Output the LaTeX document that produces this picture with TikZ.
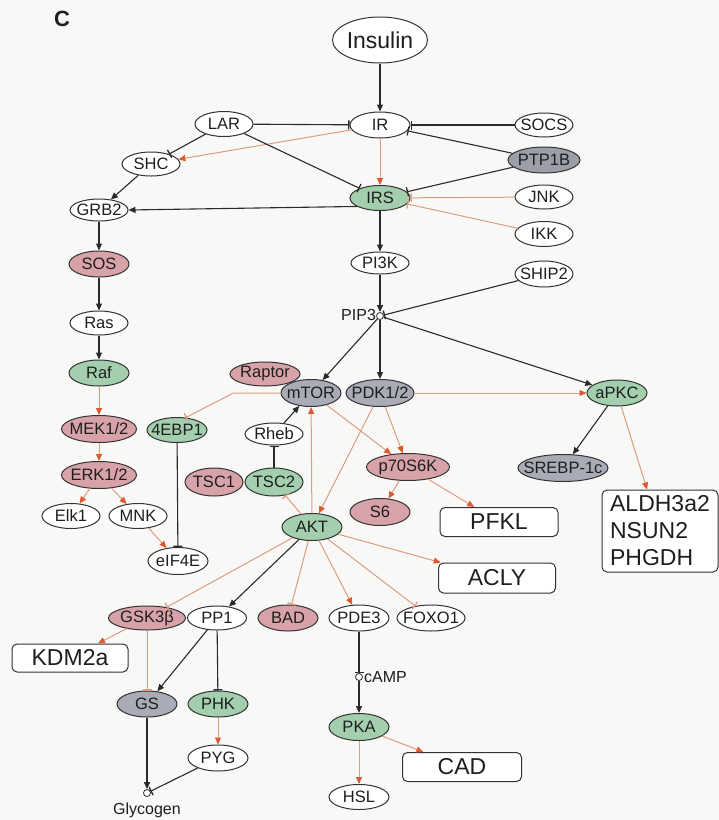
\documentclass[tikz,border=0pt]{standalone}
\usepackage{fontspec}
\setmainfont{Liberation Sans}
\usetikzlibrary{shapes.geometric,arrows.meta,calc}
\definecolor{bgc}{HTML}{F8F8F7}
\definecolor{pkc}{HTML}{D8A3A8}
\definecolor{grc}{HTML}{A3CFAE}
\definecolor{gyc}{HTML}{A9ABB6}
\definecolor{gyd}{HTML}{9C9EA9}
\definecolor{edgec}{HTML}{333333}
\definecolor{blk}{HTML}{2A2A2A}
\definecolor{orl}{HTML}{DE9C80}
\definecolor{ort}{HTML}{DD5A2E}
\definecolor{txt}{HTML}{1E1E1E}
\newcommand\mk[1]{\makebox[0pt]{#1}}
\begin{document}
\begin{tikzpicture}[x=1pt,y=-1pt,
  el/.style={ellipse, draw=edgec, line width=1pt, inner sep=0pt, text=txt,
    font=\fontsize{16.5}{17}\selectfont},
  sz/.style 2 args={minimum width=#1pt, minimum height=#2pt},
  wn/.style={el, fill=white},
  pn/.style={el, fill=pkc},
  gn/.style={el, fill=grc},
  yn/.style={el, fill=gyc},
  yd/.style={el, fill=gyd},
  bx/.style={draw=edgec, line width=1pt, rounded corners=5pt, fill=white,
    inner sep=0pt, text=txt, font=\fontsize{23}{27}\selectfont, align=center},
  lbl/.style={inner sep=0pt, text=txt, font=\fontsize{16}{16}\selectfont},
  jn/.style={circle, draw=edgec, fill=white, line width=0.8pt, minimum size=7pt, inner sep=0pt},
  ba/.style={draw=blk, line width=1.1pt, -{Triangle[length=7pt,width=6pt]}},
  bi/.style={draw=blk, line width=1.1pt, -{Bar[width=9pt,line width=1.3pt]}},
  oa/.style={draw=orl, line width=1pt, -{Triangle[length=7pt,width=6pt,color=ort]}},
  oi/.style={draw=orl, line width=1pt, -{Bar[width=9pt,line width=1.3pt]}},
]
\fill[bgc] (0,0) rectangle (719,820);
\useasboundingbox (0,0) rectangle (719,820);

\node[font=\fontsize{22}{22}\selectfont\bfseries, text=txt, inner sep=0pt] (clbl) at (62,19) {C};

% top
\node[wn, sz={95}{46}, font=\fontsize{23}{24}\selectfont] (ins) at (380,40) {\mk{Insulin}};
\node[wn, sz={60}{26}] (ir) at (380,125) {\mk{IR}};
\node[wn, sz={58}{25}] (lar) at (224,124) {\mk{LAR}};
\node[wn, sz={58}{24}] (socs) at (544,125) {\mk{SOCS}};
\node[yd, sz={72}{26}] (ptp) at (544,160) {\mk{PTP1B}};
\node[wn, sz={58}{24}] (shc) at (151,164) {\mk{SHC}};
\node[wn, sz={58}{22}] (grb) at (99,210) {\mk{GRB2}};
\node[gn, sz={60}{25}] (irs) at (380,198) {\mk{IRS}};
\node[wn, sz={58}{24}] (jnk) at (544,197) {\mk{JNK}};
\node[wn, sz={58}{25}] (ikk) at (544,234) {\mk{IKK}};
\node[wn, sz={58}{22}] (pi3k) at (380,263) {\mk{PI3K}};
\node[wn, sz={58}{26}] (ship) at (544,274) {\mk{SHIP2}};
\node[jn] (pip3) at (380,316) {};
\node[lbl, anchor=east] (pip3l) at ($(pip3.west)+(0,-1)$) {PIP3};

% left column
\node[pn, sz={60}{26}] (sos) at (99,264) {\mk{SOS}};
\node[wn, sz={58}{24}] (ras) at (99,323) {\mk{Ras}};
\node[gn, sz={60}{26}] (raf) at (99,373) {\mk{Raf}};
\node[pn, sz={75}{27}] (mek) at (99,429) {\mk{MEK1/2}};
\node[pn, sz={75}{27}] (erk) at (99,475) {\mk{ERK1/2}};
\node[wn, sz={58}{25}] (elk) at (71,516) {\mk{Elk1}};
\node[wn, sz={58}{25}] (mnk) at (138,516) {\mk{MNK}};
\node[wn, sz={60}{27}] (eif) at (178,561) {\mk{eIF4E}};

% middle
\node[pn, sz={70}{24}] (rap) at (265,374) {\mk{Raptor}};
\node[yn, sz={60}{27}] (mtor) at (311,393) {\mk{mTOR}};
\node[yn, sz={68}{27}] (pdk) at (380,393) {\mk{PDK1/2}};
\node[gn, sz={60}{26}] (apkc) at (617,393) {\mk{aPKC}};
\node[gn, sz={60}{25}] (ebp) at (177,430) {\mk{4EBP1}};
\node[wn, sz={58}{22}] (rheb) at (274,434) {\mk{Rheb}};
\node[pn, sz={58}{28}] (tsc1) at (214,482) {\mk{TSC1}};
\node[gn, sz={58}{28}] (tsc2) at (274,482) {\mk{TSC2}};
\node[gn, sz={60}{27}] (akt) at (312,527) {\mk{AKT}};
\node[pn, sz={83}{27}] (p70) at (408,467) {\mk{p70S6K}};
\node[pn, sz={60}{27}] (s6) at (380,512) {\mk{S6}};
\node[yn, sz={90}{27}] (srebp) at (563,468) {\mk{SREBP-1c}};
\node[bx, minimum width=118pt, minimum height=29pt] (pfkl) at (499,522) {PFKL};
\node[bx, minimum width=116pt, minimum height=82pt, align=left] (aldh) at (660,531) {ALDH3a2\\NSUN2\\PHGDH};
\node[bx, minimum width=117pt, minimum height=30pt] (acly) at (497,578) {ACLY};

% lower row
\node[pn, sz={77}{24}] (gsk) at (147,618) {\mk{GSK3β}};
\node[wn, sz={59}{24}] (pp1) at (217,618) {\mk{PP1}};
\node[pn, sz={60}{26}] (bad) at (288,618) {\mk{BAD}};
\node[wn, sz={60}{26}] (pde) at (359,618) {\mk{PDE3}};
\node[wn, sz={68}{26}] (foxo) at (431,618) {\mk{FOXO1}};
\node[bx, minimum width=116pt, minimum height=28pt] (kdm) at (70,658) {KDM2a};
\node[yn, sz={60}{26}] (gs) at (147,704) {\mk{GS}};
\node[gn, sz={60}{26}] (phk) at (218,704) {\mk{PHK}};
\node[wn, sz={60}{26}] (pyg) at (218,758) {\mk{PYG}};
\node[jn] (glyc) at (147,793) {};
\node[lbl] (glyct) at (147,810) {Glycogen};
\node[jn] (camp) at (359,677) {};
\node[lbl, anchor=west] (campt) at ($(camp.east)+(1,0)$) {cAMP};
\node[gn, sz={60}{27}] (pka) at (359,727) {\mk{PKA}};
\node[wn, sz={60}{25}] (hsl) at (359,797) {\mk{HSL}};
\node[bx, minimum width=119pt, minimum height=29pt] (cad) at (462,767) {CAD};

% edges top
\draw[ba] (ins) -- (ir);
\draw[bi] (lar) -- (ir);
\draw[bi] (socs) -- (ir);
\draw[bi] (ptp) -- (ir);
\draw[oa] (ir) -- (shc);
\draw[oa] (ir) -- (irs);
\draw[bi] (lar) -- (shc);
\draw[bi] (lar) -- (irs);
\draw[ba] (irs.200) -- (grb.east);
\draw[ba] (shc) -- (grb);
\draw[bi] (ptp) -- (irs);
\draw[oi] (jnk) -- (irs);
\draw[oi] (ikk) -- (irs);
\draw[ba] (irs) -- (pi3k);
\draw[ba] (pi3k) -- (pip3);
\draw[bi] (ship) -- (pip3);
\draw[ba] (pip3) -- (mtor);
\draw[ba] (pip3) -- (pdk);
\draw[ba] (pip3) -- (apkc);

% left column edges
\draw[ba] (grb) -- (sos);
\draw[ba] (sos) -- (ras);
\draw[ba] (ras) -- (raf);
\draw[oa] (raf) -- (mek);
\draw[oa] (mek) -- (erk);
\draw[oa] (erk) -- (elk);
\draw[oa] (erk) -- (mnk);
\draw[oa] (mnk) -- (eif);
\draw[bi] (ebp) -- (eif);

% middle edges
\draw[oi] (mtor.west) -- ++(-47,0) -- (ebp.55);
\draw[ba] (rheb) -- (mtor);
\draw[bi] (tsc2) -- (rheb);
\draw[oi] (akt) -- (tsc2);
\draw[oa] (akt) -- (mtor);
\draw[oa] (pdk) -- (akt);
\draw[oa] (mtor) -- (p70);
\draw[oa] (pdk) -- (p70);
\draw[oa] (pdk) -- (apkc);
\draw[ba] (apkc) -- (srebp);
\draw[oa] (apkc) -- (aldh);
\draw[oa] (p70) -- (s6);
\draw[oa] (p70) -- (pfkl);

% AKT targets
\draw[oa] (akt) -- (acly);
\draw[oi] (akt) -- (foxo);
\draw[oa] (akt) -- (pde);
\draw[oi] (akt) -- (bad);
\draw[ba] (akt) -- (pp1);
\draw[oi] (akt) -- (gsk);

% bottom
\draw[oa] (gsk) -- (kdm);
\draw[oi] (gsk) -- (gs);
\draw[ba] (pp1) -- (gs);
\draw[bi] (pp1) -- (phk);
\draw[oa] (phk) -- (pyg);
\draw[ba] (gs) -- (glyc);
\draw[bi] (pyg) -- (glyc);
\draw[bi] (pde) -- (camp);
\draw[ba] (camp) -- (pka);
\draw[oa] (pka) -- (hsl);
\draw[oa] (pka) -- (cad);
\end{tikzpicture}
\end{document}
